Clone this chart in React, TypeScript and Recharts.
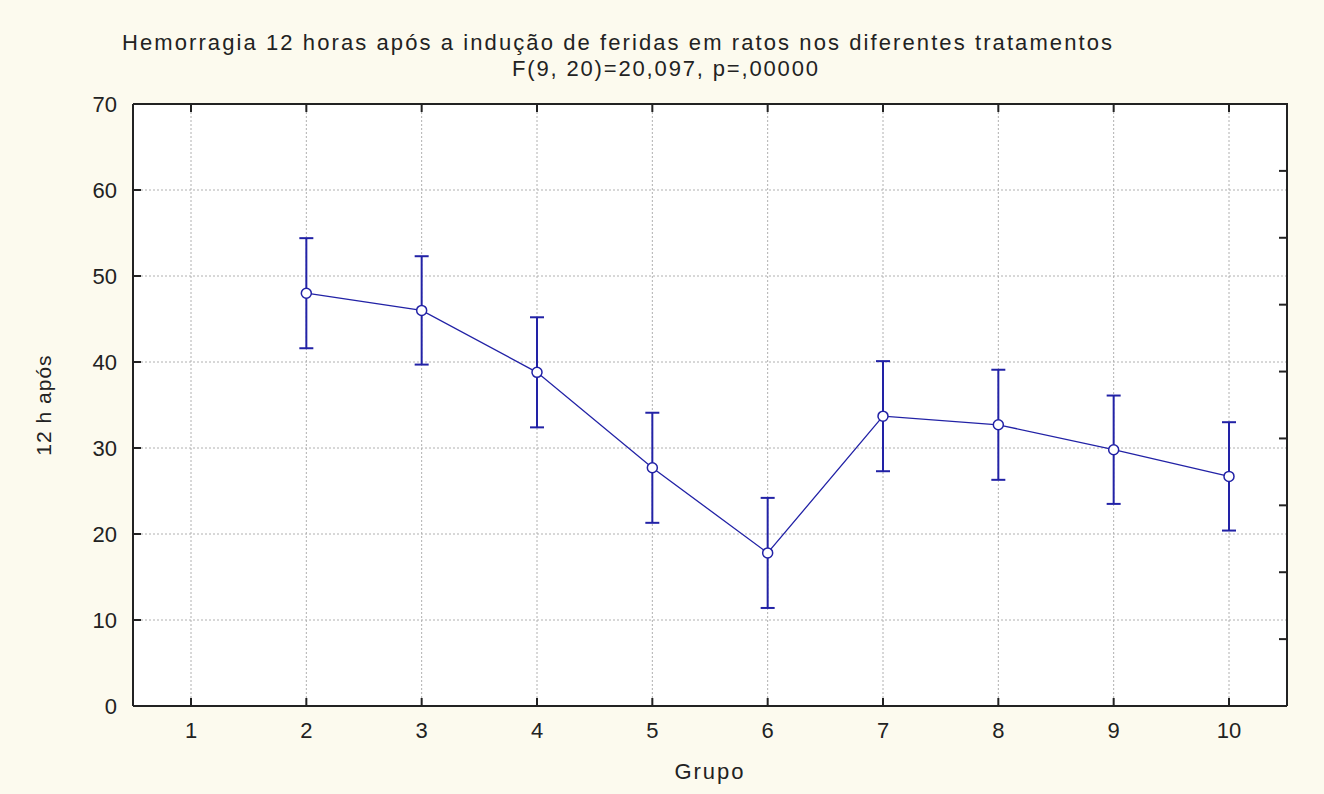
import { ComposedChart, Line, XAxis, YAxis, CartesianGrid, ErrorBar } from 'recharts'

// group labels on the x axis
const groups = ['1', '2', '3', '4', '5', '6', '7', '8', '9', '10']
// mean hemorrhage 12 h after wounding, per group (group 1 has no value)
const means = [null, 48.0, 46.0, 38.8, 27.7, 17.8, 33.7, 32.7, 29.8, 26.7]
// half-length of the confidence bars
const errors = [null, 6.4, 6.3, 6.4, 6.4, 6.4, 6.4, 6.4, 6.3, 6.3]
const yTicks = [0, 10, 20, 30, 40, 50, 60, 70]
// unlabeled divisions of the right frame edge
const frameTicks = [0, 1, 2, 3, 4, 5, 6, 7, 8, 9]

const data = groups.map((g, i) => ({ grupo: g, media: means[i], err: errors[i] }))

const W = 1324
const H = 794
const BLUE = '#2222a6'
const INK = '#222222'
const BG = '#fcfaee'
const FRAME = { stroke: INK, strokeWidth: 2 }
const PAD = 58
const TICK_LEN = 8
const Y_MAX = 70

// chart box sizes, shared with the white panel and the frame ticks
const MARGIN = { top: 104, right: 37, bottom: 0, left: 0 }
const Y_W = 133
const X_H = 88
const plot = {
  left: MARGIN.left + Y_W,
  top: MARGIN.top,
  width: W - MARGIN.left - Y_W - MARGIN.right,
  height: H - MARGIN.top - X_H,
}
const plotRight = plot.left + plot.width
const plotBottom = plot.top + plot.height

// inward tick marks on all four sides of the frame
const catX = (i: number) => plot.left + PAD + (i * (plot.width - 2 * PAD)) / (groups.length - 1)
const valY = (v: number) => plotBottom - (v / Y_MAX) * plot.height
const frameY = (i: number) => plotBottom - (i / (frameTicks.length - 1)) * plot.height

function FrameTicks() {
  return (
    <g stroke={INK} strokeWidth={2}>
      {yTicks.map((v) => (
        <line key={`l${v}`} x1={plot.left} x2={plot.left + TICK_LEN} y1={valY(v)} y2={valY(v)} />
      ))}
      {groups.map((g, i) => (
        <g key={`c${g}`}>
          <line x1={catX(i)} x2={catX(i)} y1={plotBottom} y2={plotBottom - TICK_LEN} />
          <line x1={catX(i)} x2={catX(i)} y1={plot.top} y2={plot.top + TICK_LEN} />
        </g>
      ))}
      {frameTicks.map((t, i) => (
        <line key={`r${t}`} x1={plotRight - TICK_LEN} x2={plotRight} y1={frameY(i)} y2={frameY(i)} />
      ))}
    </g>
  )
}

export default function App() {
  return (
    <div
      style={{
        position: 'absolute',
        left: 0,
        top: 0,
        width: W,
        height: H,
        background: BG,
        fontFamily: '"Liberation Sans", Arial, sans-serif',
      }}
    >
      <div style={{ position: 'absolute', background: '#ffffff', ...plot }} />
      <ComposedChart
        width={W}
        height={H}
        data={data}
        margin={MARGIN}
        style={{ position: 'absolute', left: 0, top: 0 }}
      >
        <CartesianGrid stroke="#b0b0b0" strokeDasharray="2 2" />
        <XAxis
          dataKey="grupo"
          height={X_H}
          padding={{ left: PAD, right: PAD }}
          axisLine={FRAME}
          tickLine={false}
          tickSize={0}
          tickMargin={16}
          tick={{ fill: INK, fontSize: 22 }}
          label={{
            value: 'Grupo',
            position: 'insideBottom',
            offset: 15,
            fill: INK,
            fontSize: 22,
            style: { letterSpacing: 2 },
          }}
        />
        <YAxis
          width={Y_W}
          domain={[0, Y_MAX]}
          ticks={yTicks}
          interval={0}
          axisLine={FRAME}
          tickLine={false}
          tickSize={0}
          tickMargin={16}
          tick={{ fill: INK, fontSize: 22 }}
          label={{
            value: '12 h após',
            angle: -90,
            position: 'insideLeft',
            offset: 44,
            fill: INK,
            fontSize: 21,
            style: { textAnchor: 'middle', letterSpacing: 1 },
          }}
        />
        <Line
          dataKey="media"
          stroke={BLUE}
          strokeWidth={1.3}
          dot={{ r: 5, fill: '#ffffff', stroke: BLUE, strokeWidth: 1.5 }}
          activeDot={false}
          isAnimationActive={false}
        >
          <ErrorBar dataKey="err" width={7} stroke={BLUE} strokeWidth={2} isAnimationActive={false} />
        </Line>
      </ComposedChart>
      <svg width={W} height={H} style={{ position: 'absolute', left: 0, top: 0, pointerEvents: 'none' }}>
        <text x={617} y={50} textAnchor="middle" fontSize={22} fill={INK} textLength={990} lengthAdjust="spacing">
          Hemorragia 12 horas após a indução de feridas em ratos nos diferentes tratamentos
        </text>
        <text x={665} y={76} textAnchor="middle" fontSize={22} fill={INK} textLength={306} lengthAdjust="spacing">
          F(9, 20)=20,097, p=,00000
        </text>
        {/* top and right edges of the frame */}
        <polyline
          points={`${plot.left},${plot.top} ${plotRight},${plot.top} ${plotRight},${plotBottom}`}
          fill="none"
          stroke={INK}
          strokeWidth={2}
        />
        <FrameTicks />
      </svg>
    </div>
  )
}
